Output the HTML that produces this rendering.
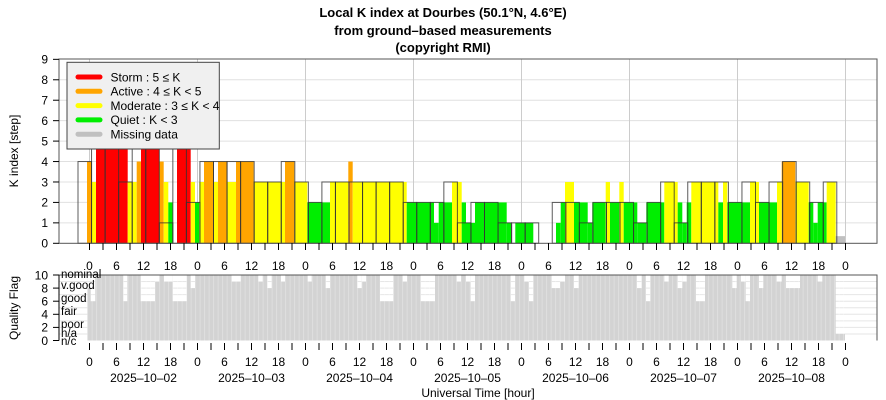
<!DOCTYPE html>
<html><head><meta charset="utf-8"><style>
html,body{margin:0;padding:0;background:#fff;}
svg{display:block;font-family:"Liberation Sans",sans-serif;}
</style></head><body>
<svg id="s" width="886" height="400" viewBox="0 0 886 400" xmlns="http://www.w3.org/2000/svg">
<defs>
<pattern id="sep" patternUnits="userSpaceOnUse" x="87.3" y="0" width="4.5" height="10">
<rect x="0" y="0" width="0.6" height="10" fill="#fff" fill-opacity="0.45"/>
</pattern>
</defs>
<g font-weight="bold" font-size="13" text-anchor="middle" fill="#000">
<text x="443" y="17">Local K index at Dourbes (50.1°N, 4.6°E)</text>
<text x="443" y="35">from ground–based measurements</text>
<text x="443" y="52">(copyright RMI)</text>
</g>
<g id="g"></g>
</svg>
<script>
const g=document.getElementById('g');let h='';
const Y=v=>243.3-20.44*v, Q=v=>340.5-6.55*v;
const C={r:'#ff0000',o:'#ffa500',y:'#ffff00',g:'#00ee00',m:'#c0c0c0'};
// top grid
for(let v=1;v<=8;v++)h+=`<line x1="59" x2="877" y1="${Y(v)}" y2="${Y(v)}" stroke="#e0e0e0"/>`;
for(let k=0;k<=7;k++){const x=89.5+108*k;h+=`<line x1="${x}" x2="${x}" y1="59" y2="243" stroke="#ccc"/>`;}
const F=[[87,91.7,4,'o'],[91.7,96,3,'y'],[96,127.7,5,'r'],[127.7,136.7,3,'y'],[136.7,141,4,'o'],[141,159.3,5,'r'],[159.3,163.7,4,'o'],[163.7,168.3,3,'y'],[168.3,172.7,2,'g'],[177,190.7,5,'r'],[190.7,195,3,'y'],[195,199.3,2,'g'],[199.3,204,3,'y'],[204,213.3,4,'o'],[213.3,218,3,'y'],[218,226.7,4,'o'],[226.7,236,3,'y'],[236,253.7,4,'o'],[253.7,285,3,'y'],[285,294.3,4,'o'],[294.3,307.3,3,'y'],[307.3,330,2,'g'],[330,348.3,3,'y'],[348.3,352.7,4,'o'],[352.7,406.7,3,'y'],[406.7,434,2,'g'],[434,438.7,1,'g'],[438.7,452,2,'g'],[452,461.7,3,'y'],[461.7,466,2,'g'],[466,475,1,'g'],[475,506.7,2,'g'],[506.7,511,1,'g'],[515.3,533.3,1,'g'],[556,560.7,1,'g'],[560.7,565,2,'g'],[565,574,3,'y'],[574,587.7,2,'g'],[587.7,592.3,1,'g'],[592.3,605.7,2,'g'],[605.7,610,3,'y'],[610,619.3,2,'g'],[619.3,623.7,3,'y'],[623.7,637.3,2,'g'],[637.3,646.3,1,'g'],[646.3,664.3,2,'g'],[664.3,677.7,3,'y'],[677.7,682.3,2,'g'],[682.3,686.7,1,'g'],[686.7,691.3,2,'g'],[691.3,718.3,3,'y'],[718.3,723,2,'g'],[723,727.3,3,'y'],[727.3,750,2,'g'],[750,759,3,'y'],[759,777,2,'g'],[777,781.7,3,'y'],[781.7,795.3,4,'o'],[795.3,808.7,3,'y'],[808.7,813.3,2,'g'],[813.3,817.7,1,'g'],[817.7,826.7,2,'g'],[826.7,835.7,3,'y'],[835.7,845,0.35,'m']];
F.forEach(f=>h+=`<rect x="${f[0]}" y="${Y(f[2])}" width="${f[1]-f[0]}" height="${243.3-Y(f[2])}" fill="${C[f[3]]}"/>`);
const H=[4,5,5,3,7,7,1,5,2,4,4,4,4,3,3,4,3,2,3,3,3,3,3,3,2,2,2,3,1,2,2,1,1,1,0,2,2,1,2,2,2,1,2,3,1,3,3,3,2,3,2,3,4,3,2,3];
H.forEach((v,s)=>{if(v>0){const x=78+13.55*s;h+=`<rect x="${x}" y="${Y(v)}" width="13.55" height="${243.3-Y(v)}" fill="none" stroke="#333" stroke-opacity="0.8"/>`;}});
// legend
h+=`<rect x="67" y="62.3" width="152.3" height="86.7" fill="#f0f0f0" stroke="#444"/>`;
const L=[['r','Storm : 5 ≤ K'],['o','Active : 4 ≤ K &lt; 5'],['y','Moderate : 3 ≤ K &lt; 4'],['g','Quiet : K &lt; 3'],['m','Missing data']];
L.forEach((l,i)=>{const y=77+14.3*i;h+=`<line x1="78" x2="100" y1="${y}" y2="${y}" stroke="${C[l[0]]}" stroke-width="5" stroke-linecap="round"/><text x="110.5" y="${y+4.3}" font-size="12">${l[1]}</text>`;});
h+=`<rect x="59" y="59" width="818" height="184.3" fill="none" stroke="#555"/>`;
// y axis top
for(let v=0;v<=9;v++){h+=`<line x1="53" x2="59" y1="${Y(v)}" y2="${Y(v)}" stroke="#000"/><text x="48" y="${Y(v)+4.3}" font-size="12" text-anchor="end">${v}</text>`;}
h+=`<text transform="translate(18,151) rotate(-90)" font-size="12" text-anchor="middle">K index [step]</text>`;
// ticks below top
for(let k=0;k<=56;k++){const x=89.5+13.5*k;h+=`<line x1="${x}" x2="${x}" y1="243" y2="250" stroke="#000"/>`;if(k%2==0){const hr=(k*3)%24;h+=`<text x="${x}" y="270" font-size="12" text-anchor="middle">${hr}</text>`;h+=`<text x="${x}" y="366" font-size="12" text-anchor="middle">${hr}</text>`;}h+=`<line x1="${x}" x2="${x}" y1="343" y2="350" stroke="#000"/>`;}
// quality
for(let v=1;v<=10;v++)h+=`<line x1="59" x2="877" y1="${Q(v)}" y2="${Q(v)}" stroke="#e6e6e6"/>`;
h+=`<rect x="87.3" y="${Q(10)}" width="748.4" height="${Q(0)-Q(10)}" fill="#d3d3d3"/>`;
h+=`<rect x="835.7" y="${Q(1)}" width="9.3" height="${Q(0)-Q(1)}" fill="#d3d3d3"/>`;
const N=[[87.3,90.7,8],[90.7,95.3,6],[123.3,127.3,6],[140.7,155,6],[155,159.3,9],[164,172.7,9],[172.7,186.7,6],[190.7,195,8],[231.7,240.7,9],[258.3,262.7,9],[267.3,271.7,8],[281,285,9],[307.7,311.7,9],[325.7,330,8],[357.3,361.7,8],[361.7,366,9],[380,393.3,6],[402.7,407,9],[420.7,435,6],[456.7,461,9],[466,470.7,9],[470.7,475,6],[510.7,515,6],[524.3,529,9],[529,533.3,6],[551.7,560,8],[560,565,9],[574,578.7,8],[637,641.7,8],[646,650.3,6],[664.3,668.7,9],[677.7,682.3,8],[682.3,686.7,9],[696,705,6],[732.3,736.7,8],[741,745.7,9],[745.7,750,6],[759,763.3,8],[776.7,781.7,9],[786,800,8],[817.7,822.3,9]];
N.forEach(n=>{h+=`<rect x="${n[0]}" y="${Q(10)}" width="${n[1]-n[0]}" height="${Q(n[2])-Q(10)}" fill="#fff"/>`;for(let v=n[2]+1;v<10;v++)h+=`<line x1="${n[0]}" x2="${n[1]}" y1="${Q(v)}" y2="${Q(v)}" stroke="#e6e6e6"/>`;});
h+=`<rect x="87.3" y="${Q(10)}" width="757.7" height="${Q(0)-Q(10)}" fill="url(#sep)"/>`;
h+=`<polyline points="59,275 877,275 877,340.5" fill="none" stroke="#555"/><line x1="59" x2="59" y1="275" y2="340.5" stroke="#000"/>`;
for(let v=0;v<=10;v+=2){h+=`<line x1="53" x2="59" y1="${Q(v)}" y2="${Q(v)}" stroke="#000"/><text x="48" y="${Q(v)+4.3}" font-size="12" text-anchor="end">${v}</text>`;}
const QL=[['nominal',278],['v.good',289],['good',302],['fair',315],['poor',328],['n/a',337],['n/c',345]];
QL.forEach(q=>h+=`<text x="61" y="${q[1]}" font-size="11.5">${q[0]}</text>`);
h+=`<text transform="translate(18,308) rotate(-90)" font-size="12" text-anchor="middle">Quality Flag</text>`;
for(let d=0;d<7;d++)h+=`<text x="${143.5+108*d}" y="382" font-size="12" text-anchor="middle">2025–10–0${d+2}</text>`;
h+=`<text x="478" y="397" font-size="12" text-anchor="middle">Universal Time [hour]</text>`;
g.innerHTML=h;
</script>
</body></html>
